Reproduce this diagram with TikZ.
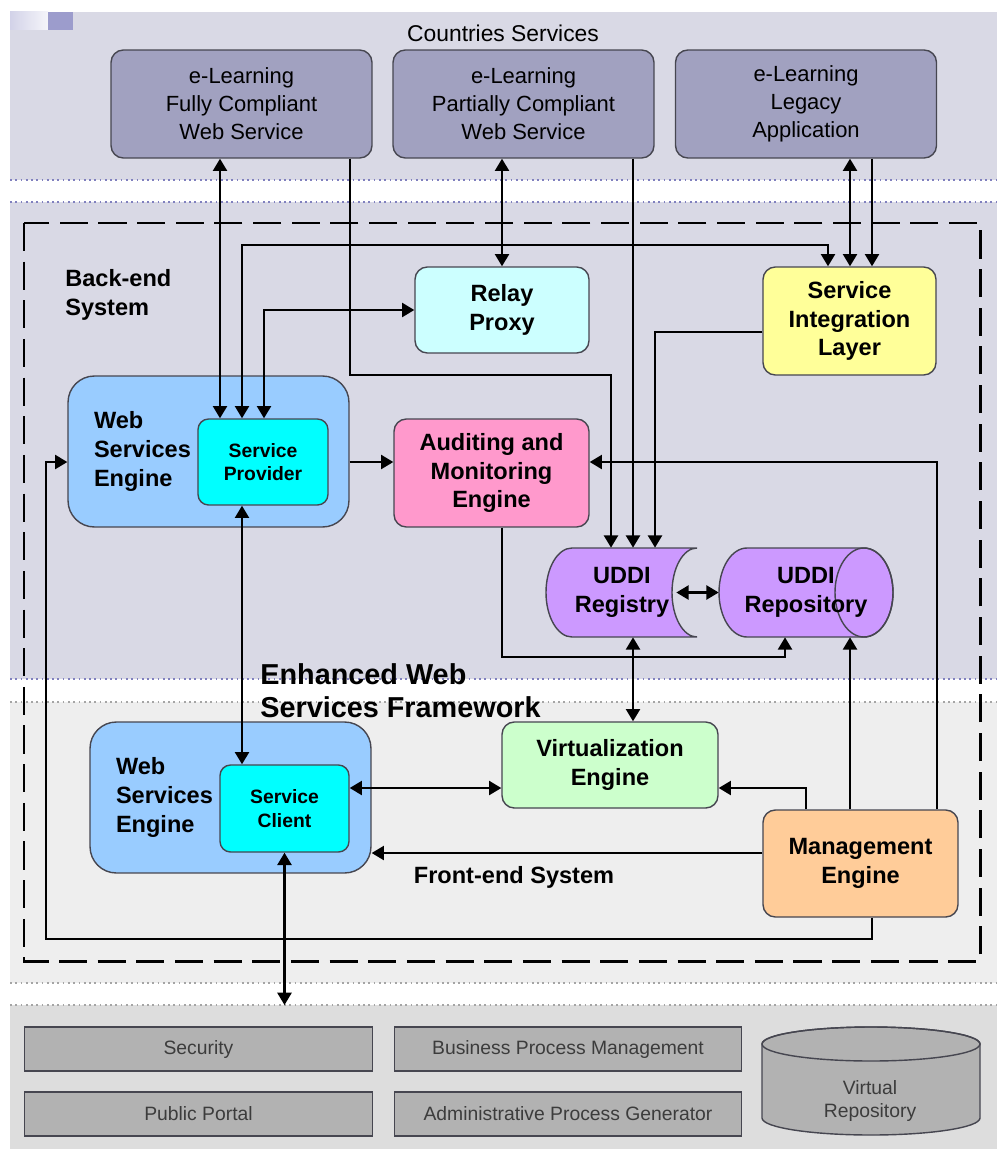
\documentclass[tikz,border=0pt]{standalone}
\usepackage{fontspec}
\setmainfont{Liberation Sans}
\usetikzlibrary{arrows.meta,calc}

\definecolor{bandlav}{RGB}{217,217,229}
\definecolor{bandfront}{RGB}{238,238,238}
\definecolor{bandbase}{RGB}{221,221,221}
\definecolor{dotblue}{RGB}{128,128,190}
\definecolor{dotgray}{RGB}{165,165,165}
\definecolor{cserv}{RGB}{161,161,192}
\definecolor{linegray}{RGB}{70,70,80}
\definecolor{relayfill}{RGB}{204,255,255}
\definecolor{silfill}{RGB}{255,255,153}
\definecolor{wsefill}{RGB}{153,204,255}
\definecolor{cyanfill}{RGB}{0,255,255}
\definecolor{audfill}{RGB}{255,153,204}
\definecolor{uddifill}{RGB}{204,153,255}
\definecolor{virtfill}{RGB}{204,255,204}
\definecolor{mgmtfill}{RGB}{255,204,153}
\definecolor{supgray}{RGB}{178,178,178}
\definecolor{suptext}{RGB}{60,60,60}
\definecolor{decolav}{RGB}{156,156,204}

\newcommand{\rgfont}{\fontsize{12.5}{15.9}\selectfont}
\newcommand{\bxfont}{\fontsize{13.4}{16.4}\selectfont\bfseries}
\newcommand{\smfont}{\fontsize{11}{13.2}\selectfont\bfseries}
\newcommand{\bigfont}{\fontsize{16.4}{18.7}\selectfont\bfseries}
\newcommand{\supfont}{\fontsize{11}{13}\selectfont}

\tikzset{
  country/.style={draw=linegray, fill=cserv, rounded corners=7pt, line width=0.8pt,
    align=center, inner sep=0pt, minimum width=5.22cm, minimum height=2.16cm, font=\rgfont},
  block/.style={draw=linegray, rounded corners=7pt, line width=0.8pt,
    align=center, inner sep=0pt, font=\bxfont},
  engine/.style={block, fill=wsefill, rounded corners=15pt, minimum width=5.62cm,
    minimum height=3.02cm, text width=4.58cm, align=left},
  inner/.style={block, fill=cyanfill, rounded corners=6pt, font=\smfont},
  support/.style={draw=linegray, fill=supgray, line width=0.8pt, inner sep=0pt,
    minimum width=6.95cm, minimum height=0.88cm, font=\supfont, text=suptext},
  uddi/.style={draw=linegray, fill=uddifill, line width=0.8pt},
  uddilabel/.style={inner sep=0pt, align=center, font=\bxfont, minimum height=1.78cm},
  link/.style={line width=1.3pt},
  banddots/.style={line width=1pt, dash pattern=on 1pt off 2pt},
  title/.style={inner sep=0pt, align=left, font=\bxfont}
}

\begin{document}
\begin{tikzpicture}[x=0.02cm,y=-0.02cm,>={Triangle[length=7pt,width=8pt]}]
\useasboundingbox (0,0) rectangle (997,1149);

% bands
\fill[bandlav] (10,12) rectangle (997,180);
\fill[bandlav] (10,202) rectangle (997,679);
\fill[bandfront] (10,702) rectangle (997,983);
\fill[bandbase] (10,1005) rectangle (997,1149);
\shade[left color=decolav!45, right color=decolav!10] (10,12) rectangle (48,30);
\fill[decolav] (48,12) rectangle (73,30);
\draw[banddots, dotblue] (10,180) -- (997,180);
\draw[banddots, dotblue] (10,202) -- (997,202);
\draw[banddots, dotblue] (10,679) -- (997,679);
\draw[banddots, dotgray] (10,702) -- (997,702);
\draw[banddots, dotgray] (10,983) -- (997,983);
\draw[banddots, dotgray] (10,1005) -- (997,1005);
\coordinate (base) at (0,1005);

\node[inner sep=0pt, font=\fontsize{13}{15}\selectfont] at (503,33) {Countries Services};

% framework border
\draw[line width=1.7pt, dash pattern=on 16pt off 6pt] (24,223) rectangle (980,961);
\node[title, anchor=west] at (65,295) {Back-end\\System};
\node[title, anchor=west, font=\bigfont] at (260,691) {Enhanced Web\\Services Framework};
\node[title] at (514,877) {Front-end System};

% countries services
\node[country] (fc) at (241.5,104) {e-Learning\\Fully Compliant\\Web Service};
\node[country] (pc) at (523.5,104) {e-Learning\\Partially Compliant\\Web Service};
\node[country] (lg) at (806,104) {e-Learning\\Legacy\\Application};

% back-end
\node[block, fill=relayfill, minimum width=3.48cm, minimum height=1.72cm] (relay) at (502,310) {Relay\\Proxy};
\node[block, fill=silfill, minimum width=3.46cm, minimum height=2.16cm] (sil) at (849.5,321) {Service\\Integration\\Layer};
\node[engine] (wse1) at (208.5,451.5) {Web\\Services\\Engine};
\node[inner, minimum width=2.6cm, minimum height=1.72cm] (sp) at (263,462) {Service\\Provider};
\node[block, fill=audfill, minimum width=3.9cm, minimum height=2.16cm] (aud) at (491.5,473) {Auditing and\\Monitoring\\Engine};

% uddi registry and repository
\draw[uddi] (572,548) -- (697,548) arc[start angle=270, end angle=90, x radius=25, y radius=44.5]
  -- (572,637) arc[start angle=90, end angle=270, x radius=26, y radius=44.5] -- cycle;
\draw[uddi] (747,548) -- (864,548) arc[start angle=-90, end angle=90, x radius=29, y radius=44.5]
  -- (747,637) arc[start angle=90, end angle=270, x radius=28, y radius=44.5] -- cycle;
\draw[uddi, fill=none] (864,592.5) ellipse[x radius=29, y radius=44.5];
\node[uddilabel, minimum width=3cm] (reg) at (622,592.5) {UDDI\\Registry};
\node[uddilabel, minimum width=3.48cm] (rep) at (806,592.5) {UDDI\\Repository};

% front-end
\node[engine, text width=4.58cm] (wse2) at (230.5,797.5) {Web\\Services\\Engine};
\node[inner, minimum width=2.58cm, minimum height=1.74cm] (sc) at (284.5,808.5) {Service\\Client};
\node[block, fill=virtfill, minimum width=4.32cm, minimum height=1.72cm] (virt) at (610,765) {Virtualization\\Engine};
\node[block, fill=mgmtfill, minimum width=3.9cm, minimum height=2.14cm] (mgmt) at (860.5,863.5) {Management\\Engine};

% support layer
\node[support] (sec) at (198.5,1049) {Security};
\node[support] (bpm) at (568,1049) {Business Process Management};
\node[support] (portal) at (198.5,1114) {Public Portal};
\node[support] (apg) at (568,1114) {Administrative Process Generator};
\draw[draw=linegray, fill=supgray, line width=0.8pt] (762,1044) -- (762,1118)
  arc[start angle=180, end angle=0, x radius=109, y radius=17]
  -- (980,1044) arc[start angle=0, end angle=-180, x radius=109, y radius=17] -- cycle;
\draw[draw=linegray, line width=0.8pt] (871,1044) ellipse[x radius=109, y radius=17];
\node[inner sep=0pt, align=center, font=\supfont, text=suptext] (vrep) at (870,1101) {Virtual\\Repository};

% connectors
\draw[link, <->] (fc.south -| 220,0) -- (sp.north -| 220,0);
\draw[link, <->] (sp.north -| 242,0) -- (242,245) -| (sil.north -| 828,0);
\draw[link, <->] (sp.north -| 264,0) |- (relay.west);
\draw[link, ->] (fc.south -| 350,0) |- (611,375) -- (reg.north -| 611,0);
\draw[link, <->] (pc.south -| relay.north) -- (relay.north);
\draw[link, ->] (pc.south -| 633,0) -- (reg.north -| 633,0);
\draw[link, <->] (lg.south -| 850,0) -- (sil.north -| 850,0);
\draw[link, ->] (lg.south -| 872,0) -- (sil.north -| 872,0);
\draw[link, ->] (sil.west |- 0,332) -| (reg.north -| 655,0);
\draw[link, ->] (wse1.east |- sp.east) -- (aud.west |- sp.east);
\draw[link, ->] (mgmt.north -| 937,0) |- (aud.east |- sp.east);
\draw[link, ->] (aud.south -| 502,0) |- (785,657) -- (rep.south -| 785,0);
\draw[link, <->] ($(reg.east)+(-21,0)$) -- (rep.west);
\draw[link, <->] (reg.south -| 633,0) -- (virt.north -| 633,0);
\draw[link, ->] (mgmt.north -| 850,0) -- (rep.south -| 850,0);
\draw[link, ->] (mgmt.north -| 806,0) |- (virt.east |- 0,788);
\draw[link, <->] (sc.east |- 0,788) -- (virt.west |- 0,788);
\draw[link, ->] (mgmt.west |- 0,853) -- (wse2.east |- 0,853);
\draw[link, ->] (mgmt.south -| 872,0) -- (872,939) -| (46,462) -- (wse1.west |- sp.east);
\draw[link, <->] (sp.south -| 242,0) -- (sc.north -| 242,0);
\draw[link, <->] (sc.south) -- (base -| sc.south);
\end{tikzpicture}
\end{document}
